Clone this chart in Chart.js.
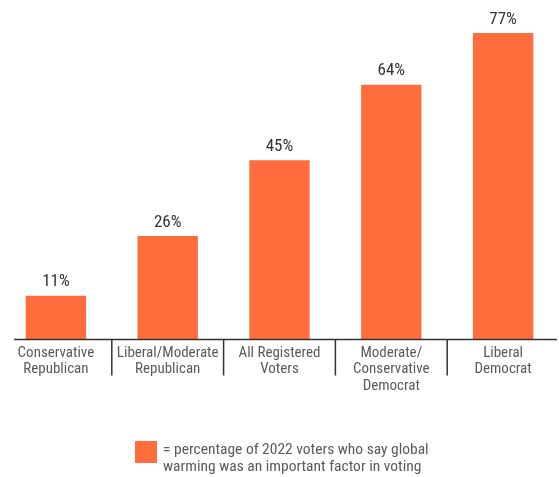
<!DOCTYPE html>
<html>
<head>
<meta charset="utf-8">
<script src="https://cdn.jsdelivr.net/npm/chart.js@4.4.1/dist/chart.umd.min.js"></script>
<style>
  html, body { margin: 0; padding: 0; background: #fff; overflow: hidden; }
  #wrap { width: 559px; height: 477px; }
</style>
</head>
<body>
<div id="wrap"><canvas id="c" width="559" height="477"></canvas></div>
<script>
const categories = [
  ["Conservative", "Republican"],
  ["Liberal/Moderate", "Republican"],
  ["All Registered", "Voters"],
  ["Moderate/", "Conservative", "Democrat"],
  ["Liberal", "Democrat"]
];
const values = [11, 26, 45, 64, 77];
const legendLines = [
  "= percentage of 2022 voters who say global",
  "warming was an important factor in voting"
];
const barColor = "#FF6D3D";
const FONT = "'Roboto Condensed', 'DejaVu Sans Condensed', 'Liberation Sans Narrow', Roboto, sans-serif";

const valueLabels = {
  id: 'valueLabels',
  afterDatasetsDraw(chart) {
    const ctx = chart.ctx;
    const meta = chart.getDatasetMeta(0);
    ctx.save();
    ctx.fillStyle = '#333';
    ctx.font = "17px " + FONT;
    ctx.textAlign = 'center';
    ctx.textBaseline = 'bottom';
    meta.data.forEach((bar, i) => {
      ctx.fillText(values[i] + '%', bar.x, bar.y - 5);
    });
    ctx.restore();
  }
};

const axisLines = {
  id: 'axisLines',
  afterDraw(chart) {
    const ctx = chart.ctx;
    const xs = chart.scales.x;
    const y = chart.scales.y.getPixelForValue(0);
    ctx.save();
    ctx.strokeStyle = '#333';
    ctx.lineWidth = 1.5;
    ctx.beginPath();
    ctx.moveTo(chart.chartArea.left + 14, y);
    ctx.lineTo(chart.chartArea.right - 2, y);
    ctx.stroke();
    for (let i = 1; i < categories.length; i++) {
      const bx = (xs.getPixelForValue(i - 1) + xs.getPixelForValue(i)) / 2;
      ctx.beginPath();
      ctx.moveTo(bx, y);
      ctx.lineTo(bx, y + 36);
      ctx.stroke();
    }
    ctx.restore();
  }
};

const bottomLegend = {
  id: 'bottomLegend',
  afterDraw(chart) {
    const ctx = chart.ctx;
    ctx.save();
    ctx.fillStyle = barColor;
    ctx.fillRect(135, 441, 22, 22);
    ctx.fillStyle = '#5a5a5a';
    ctx.font = "15.5px " + FONT;
    ctx.textAlign = 'left';
    ctx.textBaseline = 'middle';
    ctx.fillText(legendLines[0], 163, 450);
    ctx.fillText(legendLines[1], 163, 467);
    ctx.restore();
  }
};

new Chart(document.getElementById('c'), {
  type: 'bar',
  data: {
    labels: categories,
    datasets: [{
      label: legendLines.join(' '),
      data: values,
      backgroundColor: barColor,
      borderWidth: 0,
      barPercentage: 0.54,
      categoryPercentage: 1
    }]
  },
  options: {
    responsive: false,
    animation: false,
    devicePixelRatio: 1,
    layout: { padding: { top: 21, left: 0, right: 0, bottom: 78 } },
    plugins: { legend: { display: false }, tooltip: { enabled: false } },
    scales: {
      y: { display: false, min: 0, max: 80 },
      x: {
        border: { display: false },
        grid: { display: false, drawTicks: false },
        ticks: {
          padding: 5,
          color: '#5a5a5a',
          font: { family: FONT, size: 15, lineHeight: 1.1 },
          maxRotation: 0,
          autoSkip: false
        }
      }
    }
  },
  plugins: [valueLabels, axisLines, bottomLegend]
});
</script>
</body>
</html>
